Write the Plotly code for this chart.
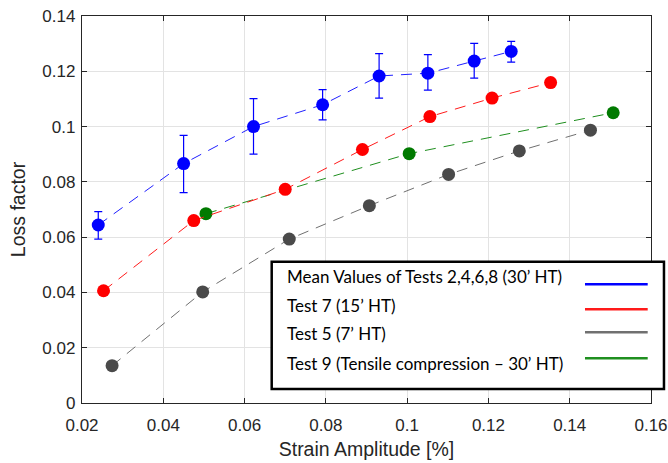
import plotly.graph_objects as go

# Data
blue_x = [0.0240, 0.0450, 0.0622, 0.0792, 0.0931, 0.1051, 0.1165, 0.1256]
blue_y = [0.0644, 0.0866, 0.1000, 0.1079, 0.1183, 0.1193, 0.1237, 0.1272]
blue_err_plus = [0.0048, 0.0102, 0.0101, 0.0055, 0.0081, 0.0067, 0.0064, 0.0036]
blue_err_minus = [0.0051, 0.0105, 0.0100, 0.0055, 0.0080, 0.0061, 0.0062, 0.0039]

red_x = [0.0253, 0.0475, 0.0700, 0.0890, 0.1056, 0.1209, 0.1353]
red_y = [0.0406, 0.0660, 0.0773, 0.0917, 0.1036, 0.1103, 0.1159]

gray_x = [0.0274, 0.0497, 0.0710, 0.0907, 0.1102, 0.1276, 0.1451]
gray_y = [0.0135, 0.0402, 0.0593, 0.0714, 0.0827, 0.0912, 0.0987]

green_x = [0.0505, 0.1005, 0.1507]
green_y = [0.0685, 0.0902, 0.1050]

legend_labels = [
    "Mean Values of Tests 2,4,6,8 (30\u2019 HT)",
    "Test 7 (15\u2019 HT)",
    "Test 5 (7\u2019 HT)",
    "Test 9 (Tensile compression \u2013 30\u2019 HT)",
]
legend_colors = ["#0000ff", "#ff1a1a", "#707070", "#1f8f1f"]

x_ticks = [0.02, 0.04, 0.06, 0.08, 0.10, 0.12, 0.14, 0.16]
x_tick_text = ["0.02", "0.04", "0.06", "0.08", "0.1", "0.12", "0.14", "0.16"]
y_ticks = [0, 0.02, 0.04, 0.06, 0.08, 0.10, 0.12, 0.14]
y_tick_text = ["0", "0.02", "0.04", "0.06", "0.08", "0.1", "0.12", "0.14"]

fig = go.Figure()

def add_series(x, y, line_color, marker_color, err=None):
    kw = {}
    if err is not None:
        kw["error_y"] = dict(type="data", symmetric=False, array=err[0], arrayminus=err[1],
                             color="#0000ff", thickness=1.2, width=4)
    fig.add_trace(go.Scatter(
        x=x, y=y, mode="lines+markers",
        line=dict(color=line_color, width=1, dash="11px,8px"),
        marker=dict(color=marker_color, size=13, line=dict(width=0)),
        showlegend=False, **kw))

add_series(green_x, green_y, "#1f8f1f", "#007a00")
add_series(gray_x, gray_y, "#707070", "#4a4a4a")
add_series(red_x, red_y, "#ff1a1a", "#ff0000")
add_series(blue_x, blue_y, "#2020ff", "#0000ff", err=(blue_err_plus, blue_err_minus))

# Custom legend box
fig.add_shape(type="rect", xref="paper", yref="paper",
              x0=0.3334, x1=1.0228, y0=0.0362, y1=0.365,
              line=dict(color="black", width=2.5), fillcolor="white", layer="above")
text_y = [0.3264, 0.2532, 0.1783, 0.1026]
line_y = [0.3067, 0.2421, 0.1827, 0.1155]
for lab, col, ty, ly in zip(legend_labels, legend_colors, text_y, line_y):
    fig.add_annotation(x=0.3568, y=ty, xref="paper", yref="paper", text=lab,
                       showarrow=False, xanchor="left", yanchor="middle",
                       font=dict(family="Lato", size=17, color="black"))
    fig.add_shape(type="line", xref="paper", yref="paper", x0=0.884, x1=0.9942,
                  y0=ly, y1=ly, line=dict(color=col, width=2.5), layer="above")

axis_common = dict(
    showline=True, linecolor="#262626", linewidth=1.3, mirror="ticks",
    ticks="inside", ticklen=5, tickcolor="#262626", automargin=False,
    showgrid=True, gridcolor="#e3e3e3", gridwidth=1, zeroline=False,
    tickfont=dict(family="Liberation Sans, Arial", size=17, color="#262626"),
)

fig.update_layout(
    width=668, height=463,
    margin=dict(l=82, r=17, t=16, b=60),
    paper_bgcolor="white", plot_bgcolor="white",
    xaxis=dict(range=[0.02, 0.16], tickvals=x_ticks, ticktext=x_tick_text,
               ticklabelstandoff=6,
               title=dict(text="Strain Amplitude [%]", standoff=8,
                          font=dict(family="Liberation Sans, Arial", size=19.5, color="#262626")),
               **axis_common),
    yaxis=dict(range=[0, 0.14], tickvals=y_ticks, ticktext=y_tick_text,
               ticklabelstandoff=2,
               title=dict(text="Loss factor", standoff=11,
                          font=dict(family="Liberation Sans, Arial", size=19.5, color="#262626")),
               **axis_common),
)

fig.write_html("out.html")
